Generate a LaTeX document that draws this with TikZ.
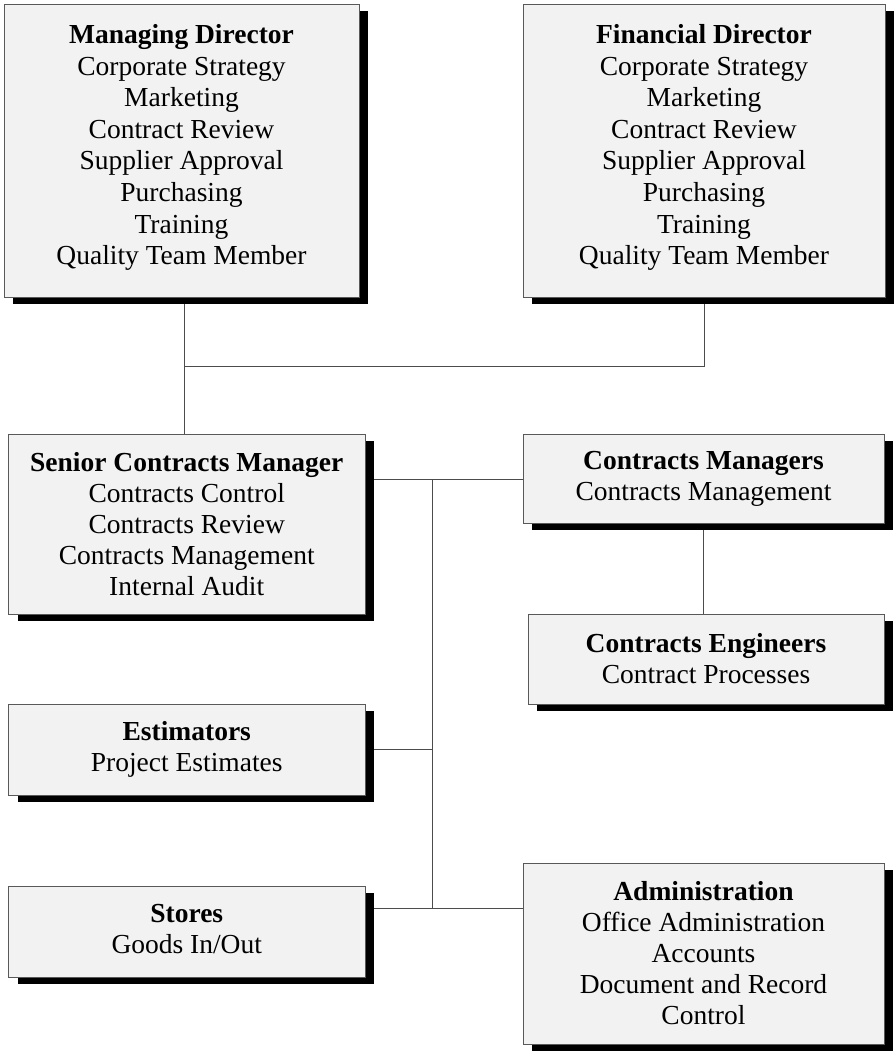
\documentclass[tikz,border=0pt]{standalone}
\usepackage{fontspec}
\setmainfont{Liberation Serif}
\usetikzlibrary{shadows,backgrounds}
\definecolor{boxfill}{RGB}{242,242,242}
\begin{document}
\begin{tikzpicture}[x=1pt,y=-1pt,
  box/.style={draw=black!65, line width=0.9pt, fill=boxfill, rectangle, inner sep=0pt,
    align=center, font=\fontsize{27.5}{31}\selectfont,
    general shadow={fill=black, shadow xshift=9pt, shadow yshift=-7pt}},
  tallbox/.style={box, font=\fontsize{27.5}{31.6}\selectfont},
  conn/.style={draw=black!70, line width=0.9pt}]
\useasboundingbox (0,0) rectangle (894,1051);

\node[tallbox, minimum width=355pt, minimum height=293pt] (md) at (181.5,150.5)
  {\textbf{Managing Director}\\Corporate Strategy\\Marketing\\Contract Review\\Supplier Approval\\Purchasing\\Training\\Quality Team Member\\[-19.6pt]\mbox{}};
\node[tallbox, minimum width=362pt, minimum height=293pt] (fd) at (704,150.5)
  {\textbf{Financial Director}\\Corporate Strategy\\Marketing\\Contract Review\\Supplier Approval\\Purchasing\\Training\\Quality Team Member\\[-19.6pt]\mbox{}};
\node[box, minimum width=356.5pt, minimum height=180pt] (scm) at (186.75,524)
  {\textbf{Senior Contracts Manager}\\Contracts Control\\Contracts Review\\Contracts Management\\Internal Audit};
\node[box, minimum width=361pt, minimum height=89pt] (cm) at (703.5,478.5)
  {\textbf{Contracts Managers}\\Contracts Management};
\node[box, minimum width=356pt, minimum height=90pt] (ce) at (706,659)
  {\textbf{Contracts Engineers}\\Contract Processes};
\node[box, minimum width=356.5pt, minimum height=91pt] (est) at (186.75,749.5)
  {\textbf{Estimators}\\Project Estimates};
\node[box, minimum width=356.5pt, minimum height=91pt] (stores) at (186.75,931.5)
  {\textbf{Stores}\\Goods In/Out\\[-25pt]\mbox{}};
\node[box, minimum width=361pt, minimum height=181pt] (admin) at (703.5,953.5)
  {\textbf{Administration}\\Office Administration\\Accounts\\Document and Record\\Control};

\begin{scope}[on background layer]
\coordinate (j1) at (184,366);
\coordinate (j2) at (432,479);
\coordinate (j3) at (432,908);
\draw[conn] (md.south -| j1) -- (scm.north -| j1);
\draw[conn] (j1) -| (fd.south);
\draw[conn] (scm.east |- j2) -- (cm.west |- j2);
\draw[conn] (j2) -- (j3);
\draw[conn] (est.east) -- (est.east -| j2);
\draw[conn] (stores.east |- j3) -- (admin.west |- j3);
\draw[conn] (cm.south) -- (cm.south |- ce.north);
\end{scope}
\end{tikzpicture}
\end{document}
